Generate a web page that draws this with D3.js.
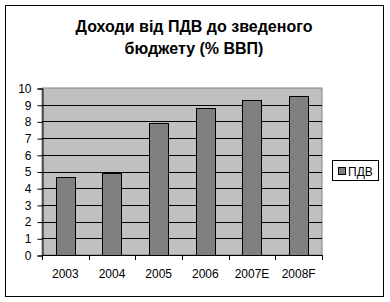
<!DOCTYPE html>
<html>
<head>
<meta charset="UTF-8">
<style>
  body { margin: 0; background: #fff; }
  text { font-family: Arial, "Liberation Sans", sans-serif; }
</style>
<script src="https://cdn.jsdelivr.net/npm/d3@7"></script>
</head>
<body>
<script>
// Дані
var years = ["2003", "2004", "2005", "2006", "2007E", "2008F"];
var vat = [4.7, 4.9, 7.9, 8.8, 9.3, 9.5];
var yTicks = [0, 1, 2, 3, 4, 5, 6, 7, 8, 9, 10];
var titleLines = ["Доходи від ПДВ до зведеного", "бюджету (% ВВП)"];
var seriesName = "ПДВ";

var W = 390, H = 302;
var plot = {left: 42, top: 88, right: 322, bottom: 255};

var svg = d3.select("body").append("svg")
    .attr("width", W)
    .attr("height", H);

// рамка
svg.append("rect")
    .attr("x", 5.5).attr("y", 5.5)
    .attr("width", 378).attr("height", 291)
    .attr("fill", "#fff").attr("stroke", "#000");

// заголовок
svg.append("g").selectAll("text")
    .data(titleLines)
    .enter().append("text")
    .attr("x", 194)
    .attr("y", function(d, i) { return 32 + i * 22; })
    .attr("text-anchor", "middle")
    .style("font-size", "16px")
    .style("font-weight", "bold")
    .text(function(d) { return d; });

var x = d3.scaleBand()
    .domain(years)
    .range([plot.left, plot.right])
    .paddingInner(0.59)
    .paddingOuter(0.295);

var y = d3.scaleLinear()
    .domain([0, 10])
    .range([plot.bottom, plot.top]);

// фон
svg.append("rect")
    .attr("x", plot.left).attr("y", plot.top)
    .attr("width", plot.right - plot.left)
    .attr("height", plot.bottom - plot.top)
    .attr("fill", "#c0c0c0")
    .attr("stroke", "#808080");

// сітка
svg.append("g").selectAll("line")
    .data(yTicks.filter(function(d) { return d > 0 && d < 10; }))
    .enter().append("line")
    .attr("x1", plot.left).attr("x2", plot.right)
    .attr("y1", function(d) { return Math.round(y(d)) + 0.5; })
    .attr("y2", function(d) { return Math.round(y(d)) + 0.5; })
    .attr("stroke", "#000");

// стовпці
svg.append("g").selectAll("rect")
    .data(vat)
    .enter().append("rect")
    .attr("x", function(d, i) { return Math.round(x(years[i])) + 0.5; })
    .attr("y", function(d) { return Math.round(y(d)) + 0.5; })
    .attr("width", Math.round(x.bandwidth()))
    .attr("height", function(d) { return Math.round(y(0)) - Math.round(y(d)); })
    .attr("fill", "#808080")
    .attr("stroke", "#000");

// вісь Y
var yAxis = svg.append("g")
    .attr("transform", "translate(" + (plot.left + 0.5) + ",0.5)")
    .call(d3.axisLeft(y).tickValues(yTicks).tickSize(5).tickPadding(6).tickFormat(d3.format("d")));
yAxis.select(".domain").attr("stroke", "#000");
yAxis.selectAll("text").style("font-size", "12px").attr("fill", "#000").attr("font-family", null);

// вісь X
var step = x.step();
var xBounds = d3.range(years.length + 1).map(function(i) { return plot.left + i * (plot.right - plot.left) / years.length; });
svg.append("line")
    .attr("x1", plot.left).attr("x2", plot.right)
    .attr("y1", plot.bottom + 0.5).attr("y2", plot.bottom + 0.5)
    .attr("stroke", "#000");
svg.append("g").selectAll("line")
    .data(xBounds)
    .enter().append("line")
    .attr("x1", function(d) { return Math.round(d) + 0.5; })
    .attr("x2", function(d) { return Math.round(d) + 0.5; })
    .attr("y1", plot.bottom).attr("y2", plot.bottom + 5)
    .attr("stroke", "#000");
svg.append("g").selectAll("text")
    .data(years)
    .enter().append("text")
    .attr("x", function(d) { return x(d) + x.bandwidth() / 2; })
    .attr("y", 278)
    .attr("text-anchor", "middle")
    .style("font-size", "12px")
    .text(function(d) { return d; });

// легенда
var lg = svg.append("g");
lg.append("rect")
    .attr("x", 332.5).attr("y", 160.5)
    .attr("width", 46).attr("height", 20)
    .attr("fill", "#fff").attr("stroke", "#000");
lg.append("rect")
    .attr("x", 338.5).attr("y", 167.5)
    .attr("width", 7).attr("height", 7)
    .attr("fill", "#808080").attr("stroke", "#000");
lg.append("text")
    .attr("x", 348).attr("y", 175.5)
    .style("font-size", "12px")
    .text(seriesName);
</script>
</body>
</html>
